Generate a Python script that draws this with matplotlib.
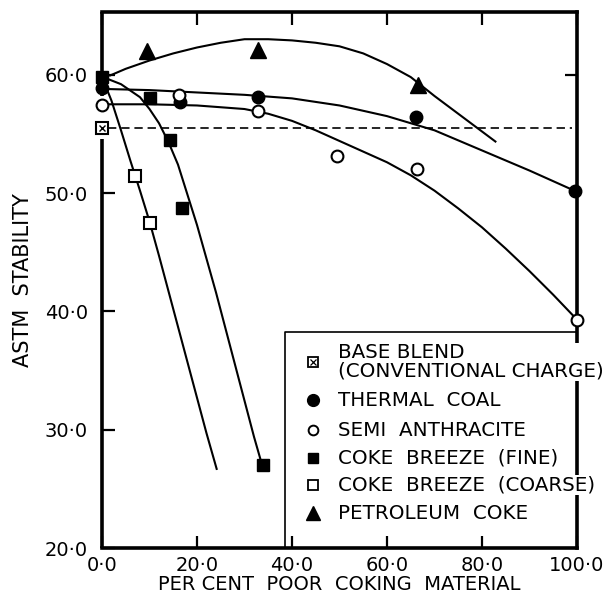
import matplotlib.pyplot as plt

plt.rcParams['lines.scale_dashes'] = False

# measured points (per cent poor coking material, ASTM stability)
base_x = [0.0]
base_y = [55.5]
thermal_x = [0.0, 16.5, 32.8, 66.1, 99.6]
thermal_y = [58.9, 57.7, 58.1, 56.4, 50.2]
semi_x = [0.0, 16.3, 32.8, 49.5, 66.3, 100.0]
semi_y = [57.4, 58.3, 56.9, 53.1, 52.0, 39.3]
fine_x = [0.0, 10.0, 14.3, 16.8, 33.9]
fine_y = [59.8, 58.0, 54.5, 48.7, 27.0]
coarse_x = [6.9, 10.1]
coarse_y = [51.4, 47.5]
petrol_x = [9.5, 32.8, 66.5]
petrol_y = [62.0, 62.1, 59.1]

# the hand drawn curves
thermal_cx = [0, 10, 20, 30, 40, 50, 60, 70, 80, 90, 100]
thermal_cy = [58.8, 58.7, 58.5, 58.3, 58.0, 57.4, 56.5, 55.3, 53.6, 51.9, 50.1]
semi_cx = [0, 10, 20, 30, 35, 40, 45, 50, 55, 60, 65, 70, 75, 80, 85, 90, 95, 100]
semi_cy = [57.5, 57.5, 57.4, 57.1, 56.7, 56.1, 55.3, 54.4, 53.5, 52.6, 51.5, 50.2, 48.7, 47.1, 45.3, 43.4, 41.4, 39.3]
fine_cx = [0.2, 4, 8, 10, 12, 14, 16, 20, 24, 28, 32, 33.5]
fine_cy = [59.8, 59.2, 58.1, 57.1, 55.9, 54.3, 52.4, 47.3, 41.6, 35.5, 29.4, 27.3]
coarse_cx = [0.5, 2, 4, 6, 8, 10, 12, 14, 16, 18, 20, 22, 24.2]
coarse_cy = [59.3, 57.8, 55.3, 52.7, 50.2, 47.6, 44.7, 41.7, 38.7, 35.7, 32.7, 29.7, 26.6]
petrol_cx = [1.5, 5, 10, 15, 20, 25, 30, 35, 40, 45, 50, 55, 60, 65, 70, 75, 80, 83]
petrol_cy = [59.9, 60.5, 61.2, 61.8, 62.3, 62.7, 63.0, 63.0, 62.9, 62.7, 62.4, 61.8, 60.9, 59.8, 58.2, 56.7, 55.2, 54.3]

x_ticks = [0, 20, 40, 60, 80, 100]
y_ticks = [20, 30, 40, 50, 60]

legend_labels = ["BASE BLEND\n(CONVENTIONAL CHARGE)", "THERMAL  COAL", "SEMI  ANTHRACITE",
                 "COKE  BREEZE  (FINE)", "COKE  BREEZE  (COARSE)", "PETROLEUM  COKE"]

fig = plt.figure(figsize=(6.07, 5.93), dpi=100)
ax = fig.add_axes([102 / 607, 45 / 593, 475 / 607, 536 / 593])
ax.set_xlim(0, 100)
ax.set_ylim(20, 65.3)

def fmt(v):
    return f"{v:.1f}".replace(".", "\u00b7")

# curves
for cx, cy in [(thermal_cx, thermal_cy), (semi_cx, semi_cy), (fine_cx, fine_cy),
               (coarse_cx, coarse_cy), (petrol_cx, petrol_cy)]:
    ax.plot(cx, cy, color="black", lw=1.5, zorder=3, solid_capstyle="butt", solid_joinstyle="round")

# base blend dashed level
ax.plot([1.2, 99], [base_y[0], base_y[0]], color="black", lw=1.2, dashes=(6, 3.5), zorder=3)

# spines: heavy, left one broken behind the markers at 0
for s in ["top", "right", "bottom"]:
    ax.spines[s].set_linewidth(2.6)
ax.spines["left"].set_visible(False)
ax.plot([0, 0], [20, 54.6], color="black", lw=2.6, clip_on=False, zorder=2.6, solid_capstyle="butt")
ax.plot([0, 0], [58.2, 65.3], color="black", lw=2.6, clip_on=False, zorder=2.6, solid_capstyle="butt")

mk = dict(ls="none", clip_on=False, zorder=5, mec="black")
ax.plot(thermal_x, thermal_y, marker="o", ms=9, mfc="black", **mk)
ax.plot(semi_x, semi_y, marker="o", ms=8.5, mfc="white", mew=1.5, **mk)
ax.plot(fine_x, fine_y, marker="s", ms=8.5, mfc="black", **mk)
ax.plot(coarse_x, coarse_y, marker="s", ms=8.5, mfc="white", mew=1.5, **mk)
ax.plot(petrol_x, petrol_y, marker="^", ms=11, mfc="black", **mk)
ax.plot(base_x, base_y, marker="s", ms=8, mfc="white", mew=1.5, **mk)
ax.plot(base_x, base_y, marker="x", ms=5, mew=1.0, ls="none", color="black", clip_on=False, zorder=6)

# ticks
ax.set_xticks(x_ticks)
ax.set_xticklabels([fmt(v) for v in x_ticks])
ax.set_yticks(y_ticks)
ax.set_yticklabels([fmt(v) for v in y_ticks])
ax.tick_params(axis="both", direction="in", length=9, width=1.6, labelsize=14)
ax.tick_params(axis="x", top=True, pad=6)
ax.tick_params(axis="y", pad=10)
sec = ax.secondary_yaxis("right")
sec.set_yticks([60])
sec.set_yticklabels([])
sec.tick_params(direction="in", length=9, width=1.6)
sec.spines["right"].set_visible(False)

ax.set_xlabel("PER CENT  POOR  COKING  MATERIAL", fontsize=14, labelpad=0)
ax.set_ylabel("ASTM  STABILITY", fontsize=15)
ax.yaxis.set_label_coords(-0.145, 0.5)

# legend box drawn by hand: left and top border, text runs over the right spine
tr = ax.transAxes
ax.plot([0.385, 0.385, 1.0], [0.0, 0.403, 0.403], color="black", lw=1.2, transform=tr, zorder=4, clip_on=False)
rows = [0.347, 0.276, 0.220, 0.168, 0.118, 0.065]
styles = [
    dict(marker="s", ms=7, mfc="white", mew=1.3),
    dict(marker="o", ms=8.5, mfc="black"),
    dict(marker="o", ms=7, mfc="white", mew=1.4),
    dict(marker="s", ms=7.5, mfc="black"),
    dict(marker="s", ms=7.5, mfc="white", mew=1.3),
    dict(marker="^", ms=10, mfc="black"),
]
for yy, st, lab in zip(rows, styles, legend_labels):
    ax.plot([0.444], [yy], transform=tr, ls="none", mec="black", clip_on=False, zorder=6, **st)
    ax.text(0.497, yy, lab, transform=tr, fontsize=14.3, va="center", ha="left", linespacing=0.95,
            zorder=7, bbox=dict(facecolor="white", edgecolor="none", pad=0.5))
ax.plot([0.444], [rows[0]], marker="x", ms=4.5, mew=0.9, color="black", transform=tr,
        ls="none", clip_on=False, zorder=7)

fig.savefig("out.png", dpi=100)
